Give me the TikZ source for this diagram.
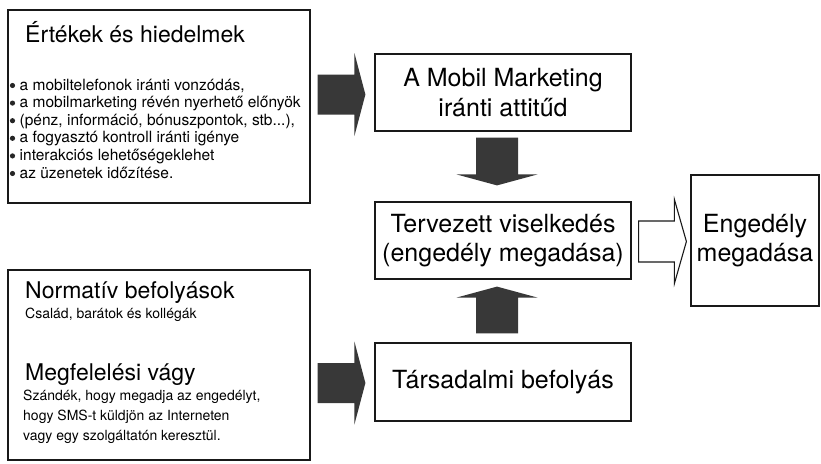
\documentclass[tikz,border=0pt]{standalone}
\usepackage{fontspec}
\setmainfont{TeX Gyre Heros}
\usetikzlibrary{calc}
\begin{document}
\begin{tikzpicture}[x=1pt,y=-1pt,
  box/.style={draw=black!90, line width=1.2pt, inner sep=0pt},
  darkarr/.style={fill=black!78},
  hollowarr/.style={draw=black!90, line width=1.1pt, fill=white, line join=miter},
  bigtxt/.style={font=\fontsize{25}{29.5}\selectfont, align=center},
  headtxt/.style={font=\fontsize{23}{26}\selectfont, anchor=base west, inner sep=0pt},
  smalltxt/.style={font=\fontsize{14}{17}\selectfont, anchor=base west, inner sep=0pt},
  bullettxt/.style={font=\fontsize{15.5}{17}\selectfont, anchor=base west, inner sep=0pt},
  bulletdot/.style={circle, fill=black!85, inner sep=0pt, minimum size=5.2pt}]
\fill[white] (0,0) rectangle (821,463);
\useasboundingbox (0,0) rectangle (821,463);

% boxes
\node[box, minimum width=302pt, minimum height=193pt] (vals) at (159,106.5) {};
\node[box, minimum width=302pt, minimum height=190pt] (soc) at (159,365) {};
\node[box, bigtxt, minimum width=256pt, minimum height=77pt] (att) at (503,92.5) {A Mobil Marketing\\iránti attitűd};
\node[box, bigtxt, minimum width=256pt, minimum height=77pt] (ter) at (503,240.5) {Tervezett viselkedés\\(engedély megadása)};
\node[box, bigtxt, minimum width=256pt, minimum height=78pt] (tar) at (503,382) {Társadalmi befolyás};
\node[box, bigtxt, minimum width=128pt, minimum height=131pt] (eng) at (755,240.5) {Engedély\\megadása};

% texts of the left boxes
\node[headtxt] (t1) at (25,42) {Értékek és hiedelmek};
\foreach \yy [count=\i] in {90,107.6,125.2,142.8,160.4,178}
  \node[bulletdot] (d\i) at (12.5,\yy-4.5) {};
\node[bullettxt] (b1) at (19.5,90) {a mobiltelefonok iránti vonzódás,};
\node[bullettxt] (b2) at (19.5,107.6) {a mobilmarketing révén nyerhető előnyök};
\node[bullettxt] (b3) at (19.5,125.2) {(pénz, információ, bónuszpontok, stb...),};
\node[bullettxt] (b4) at (19.5,142.8) {a fogyasztó kontroll iránti igénye};
\node[bullettxt] (b5) at (19.5,160.4) {interakciós lehetőségeklehet};
\node[bullettxt] (b6) at (19.5,178) {az üzenetek időzítése.};

\node[headtxt] (t2) at (25,298) {Normatív befolyások};
\node[smalltxt] (s1) at (25,318) {Család, barátok és kollégák};
\node[headtxt] (t3) at (25,380) {Megfelelési vágy};
\node[smalltxt] (s2) at (23,400) {Szándék, hogy megadja az engedélyt,};
\node[smalltxt] (s3) at (23,420) {hogy SMS-t küldjön az Interneten};
\node[smalltxt] (s4) at (23,440) {vagy egy szolgáltatón keresztül.};

% block arrows
\fill[darkarr] let \p1=($(vals.east|-att.west)+(7,2)$), \p2=($(att.west)+(-9,2)$) in
  (\x1,\y1+20pt) -- (\x2-11pt,\y1+20pt) -- (\x2-11pt,\y1+41.5pt) -- (\x2,\y2)
  -- (\x2-11pt,\y1-41.5pt) -- (\x2-11pt,\y1-20pt) -- (\x1,\y1-20pt) -- cycle;
\fill[darkarr] let \p1=($(soc.east|-tar.west)+(7,1)$), \p2=($(tar.west)+(-9,1)$) in
  (\x1,\y1+20pt) -- (\x2-11pt,\y1+20pt) -- (\x2-11pt,\y1+41.5pt) -- (\x2,\y2)
  -- (\x2-11pt,\y1-41.5pt) -- (\x2-11pt,\y1-20pt) -- (\x1,\y1-20pt) -- cycle;
\fill[darkarr] let \p1=($(att.south)+(-6,6)$), \p2=($(ter.north)+(-6,-16)$) in
  (\x1-21pt,\y1) -- (\x1-21pt,\y2+11pt) -- (\x1-40.5pt,\y2+11pt) -- (\x2,\y2)
  -- (\x1+40.5pt,\y2+11pt) -- (\x1+21pt,\y2+11pt) -- (\x1+21pt,\y1) -- cycle;
\fill[darkarr] let \p1=($(tar.north)+(-6,-9)$), \p2=($(ter.south)+(-6,7)$) in
  (\x1-21pt,\y1) -- (\x1-21pt,\y2-11pt) -- (\x1-40.5pt,\y2-11pt) -- (\x2,\y2)
  -- (\x1+40.5pt,\y2-11pt) -- (\x1+21pt,\y2-11pt) -- (\x1+21pt,\y1) -- cycle;
\filldraw[hollowarr] let \p1=($(ter.east)+(7,1)$), \p2=($(eng.west)+(-4,1)$) in
  (\x1,\y1+20.5pt) -- (\x2-12pt,\y1+20.5pt) -- (\x2-12pt,\y1+42pt) -- (\x2,\y2)
  -- (\x2-12pt,\y1-42pt) -- (\x2-12pt,\y1-20.5pt) -- (\x1,\y1-20.5pt) -- cycle;
\end{tikzpicture}
\end{document}
